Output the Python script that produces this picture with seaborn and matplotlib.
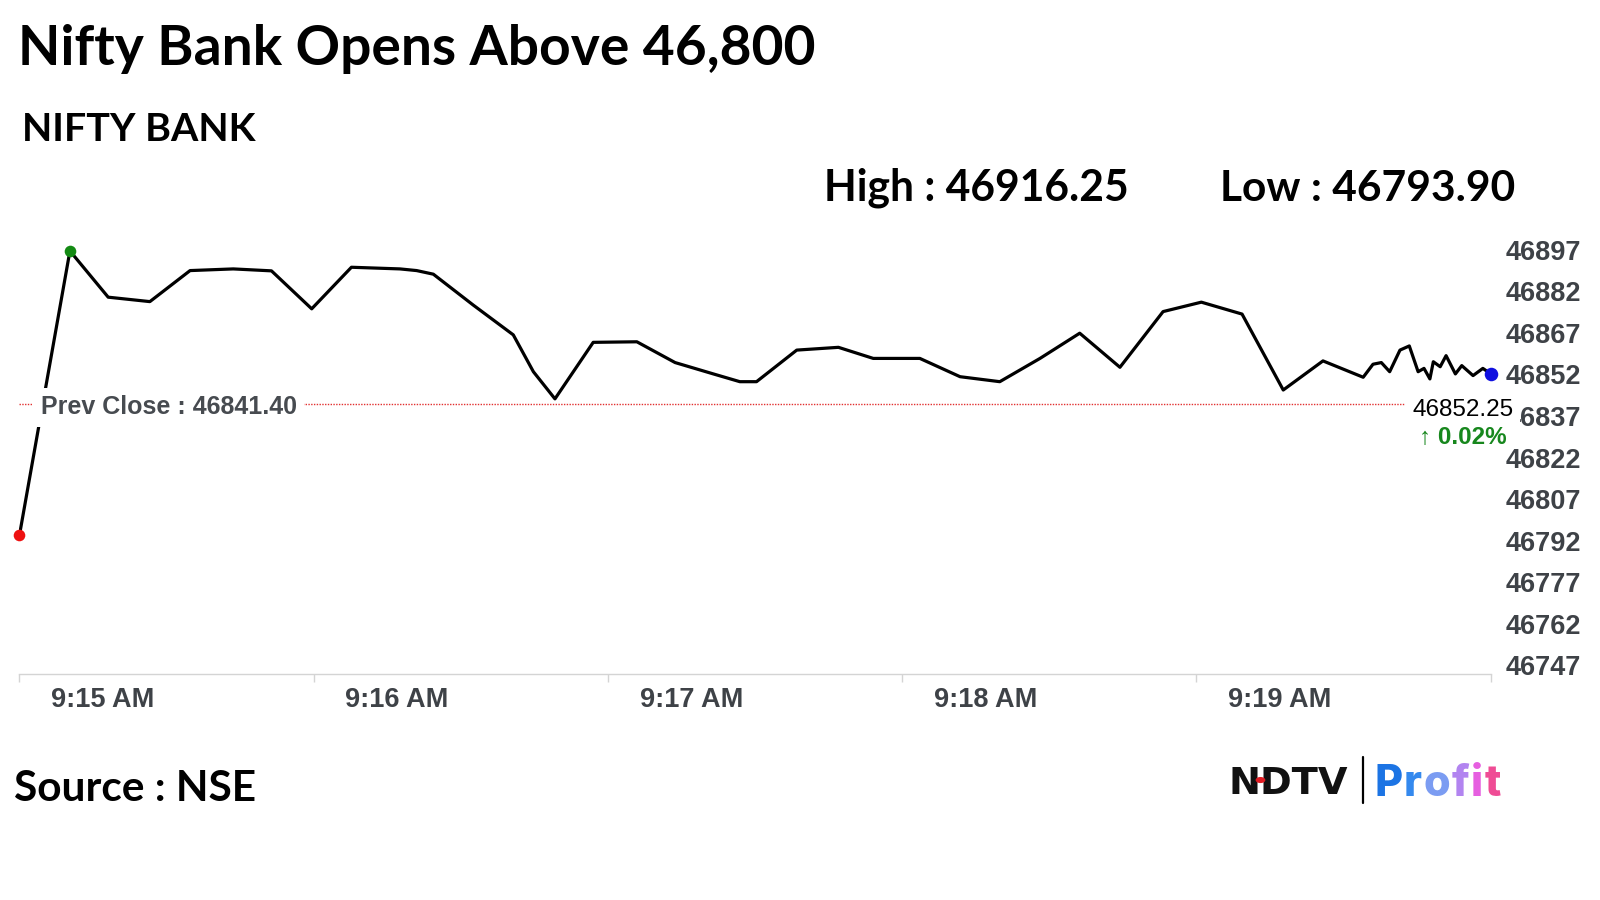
"""
Nifty Bank intraday chart (first five minutes after the open).
"""

import matplotlib
matplotlib.use("Agg")

import numpy as np
import pandas as pd
import matplotlib.pyplot as plt
import matplotlib.dates as mdates
import seaborn as sns
from matplotlib.transforms import ScaledTranslation

# --- data ---
session_start = "2024-01-01 09:15:00"
secs_after_open = [0, 10.3, 18.1, 26.6, 34.8, 43.6, 51.4, 59.6, 67.7, 77.6,
                   81.0, 84.4, 92.5, 100.7, 104.8, 109.2, 117.0, 125.9, 133.7, 141.5,
                   146.9, 150.3, 158.5, 167.0, 174.1, 183.6, 191.8, 199.9, 208.1, 216.2,
                   224.4, 233.2, 241.0, 249.3, 257.7, 265.8, 274.0, 276.0, 277.7, 279.4,
                   281.5, 283.4, 285.2, 286.4, 287.6, 288.3, 289.7, 290.9, 292.8, 294.1,
                   296.4, 298.4, 300.0]
prices = [46793.90, 46896.6, 46879.9, 46878.3, 46889.5, 46890.1, 46889.4, 46875.7, 46890.7, 46890.1,
          46889.5, 46888.2, 46877.1, 46866.3, 46853.0, 46843.2, 46863.6, 46863.8, 46856.3, 46852.2,
          46849.4, 46849.4, 46860.8, 46861.8, 46857.8, 46857.8, 46851.2, 46849.4, 46857.8, 46866.9,
          46854.6, 46874.7, 46878.1, 46873.8, 46846.4, 46856.9, 46851.0, 46855.7, 46856.3, 46853.0,
          46860.8, 46862.3, 46853.0, 46854.2, 46850.4, 46856.6, 46854.8, 46858.8, 46852.2, 46855.2,
          46851.6, 46854.2, 46852.25]
prev_close = 46841.40
day_high = 46916.25
day_low = 46793.90

y_ticks = [46897, 46882, 46867, 46852, 46837, 46822, 46807, 46792, 46777, 46762, 46747]
x_tick_labels = ["9:15 AM", "9:16 AM", "9:17 AM", "9:18 AM", "9:19 AM", ""]

profit_colors = ["#1c74e4", "#3489ee", "#7b9cf2", "#b284f0", "#e65fe0", "#ef4c95"]

# --- style ---
sns.set_theme(style="white")
plt.rcParams['font.family'] = ['Liberation Sans', 'DejaVu Sans']

GREY = "#3e4247"

df = pd.DataFrame({
    "time": pd.Timestamp(session_start) + pd.to_timedelta(secs_after_open, unit="s"),
    "price": prices,
})

fig = plt.figure(figsize=(16, 9), dpi=100)
ax = fig.add_axes([0.01213, 0.25111, 0.91956, 0.49889])

sns.lineplot(data=df, x="time", y="price", color="black", lw=2.3, ax=ax,
             estimator=None, sort=False, zorder=3, solid_joinstyle="round")

# open/low, high and last markers
i_low = df["price"].idxmin()
i_high = df["price"].idxmax()
i_last = df.index[-1]
for idx, col, size in [(i_low, "#ee1111", 70), (i_high, "#138a13", 70), (i_last, "#1010e0", 95)]:
    sns.scatterplot(data=df.loc[[idx]], x="time", y="price", color=col, s=size,
                    linewidth=0, ax=ax, zorder=4, clip_on=False)

# previous close reference line
ax.axhline(prev_close, color="#e23030", lw=1, ls=(0, (1, 1)), zorder=2)
ax.annotate(f"Prev Close : {prev_close:.2f}", xy=(0, prev_close),
            xycoords=("axes fraction", "data"), xytext=(15.3, -2.5), textcoords="offset points",
            ha="left", va="center", fontsize=18, fontweight="bold", color="#474b50",
            bbox=dict(boxstyle="square,pad=0.3", fc="white", ec="none"), zorder=5)

last_x = mdates.date2num(df["time"].iloc[-1])
last_price = df["price"].iloc[-1]
pct = (last_price - prev_close) / prev_close * 100
ax.annotate(f"{last_price:.2f}", xy=(last_x, prev_close), xytext=(16.3, -4.3),
            textcoords="offset points", ha="right", va="center", fontsize=17.5,
            color="black", bbox=dict(boxstyle="square,pad=0.28", fc="white", ec="none"),
            zorder=6, annotation_clip=False)
ax.annotate(f"\u2191 {pct:.2f}%", xy=(last_x, prev_close), xytext=(11.7, -24.5),
            textcoords="offset points", ha="right", va="center", fontsize=17.5,
            fontweight="bold", color="#17871d",
            bbox=dict(boxstyle="square,pad=0.1", fc="white", ec="none"),
            zorder=6, annotation_clip=False)

# axes
ax.set_xlim(df["time"].iloc[0], df["time"].iloc[-1])
ax.set_ylim(46743.9, 46905.95)
ax.set_xlabel("")
ax.set_ylabel("")

ax.yaxis.tick_right()
ax.set_yticks(y_ticks)
ax.set_yticklabels([str(v) for v in y_ticks])
ax.tick_params(axis="y", length=0, pad=10.8, labelsize=19.5, labelcolor=GREY)
for lbl in ax.get_yticklabels():
    lbl.set_fontweight("bold")

x_ticks = pd.date_range(session_start, periods=len(x_tick_labels), freq="min")
ax.set_xticks(x_ticks)
ax.set_xticklabels(x_tick_labels)
ax.tick_params(axis="x", direction="out", length=5.8, width=1, color="#d4d4d4",
               pad=3.8, labelsize=19.5, labelcolor=GREY, bottom=True)
offset = ScaledTranslation(0.316, 0, fig.dpi_scale_trans)
for lbl in ax.get_xticklabels():
    lbl.set_fontweight("bold")
    lbl.set_horizontalalignment("left")
    lbl.set_transform(lbl.get_transform() + offset)

sns.despine(ax=ax, left=True, right=True, top=True)
ax.spines["bottom"].set_color("#d4d4d4")
ax.spines["bottom"].set_linewidth(1)
ax.grid(False)

# --- header / footer text ---
head = ["Lato", "DejaVu Sans"]
fig.text(0.0115, 0.9278, "Nifty Bank Opens Above 46,800", fontsize=39.7, fontweight="bold",
         family=head, color="black", va="baseline")
fig.text(0.014, 0.8433, "NIFTY BANK", fontsize=28.4, fontweight="bold",
         family=head, color="black", va="baseline")
fig.text(0.5153, 0.7767, f"High : {day_high:.2f}", fontsize=30.7, fontweight="bold",
         family=head, color="black", va="baseline")
fig.text(0.7625, 0.7767, f"Low : {day_low:.2f}", fontsize=30.6, fontweight="bold",
         family=head, color="black", va="baseline")
fig.text(0.0089, 0.11, "Source : NSE", fontsize=30.5, fontweight="bold",
         family=head, color="black", va="baseline")

# NDTV Profit logo
fig.text(0.768, 0.118, "NDTV", fontsize=27.5, fontweight="bold", family="DejaVu Sans",
         color="#111111", va="baseline")
fig.add_artist(plt.Circle((0.7878, 0.1333), 0.0026, transform=fig.transFigure,
                          color="#e01b22", zorder=6))
fig.add_artist(plt.Line2D([0.852, 0.852], [0.1078, 0.1589], color="black", lw=1.6))

renderer = fig.canvas.get_renderer()
x = 0.859
for ch, col in zip("Profit", profit_colors):
    t = fig.text(x, 0.1155, ch, fontsize=31, fontweight="heavy", family=["Inter", "DejaVu Sans"],
                 color=col, va="baseline")
    x += t.get_window_extent(renderer).width / fig.bbox.width + 0.0009

fig.savefig("out.png", dpi=100)
